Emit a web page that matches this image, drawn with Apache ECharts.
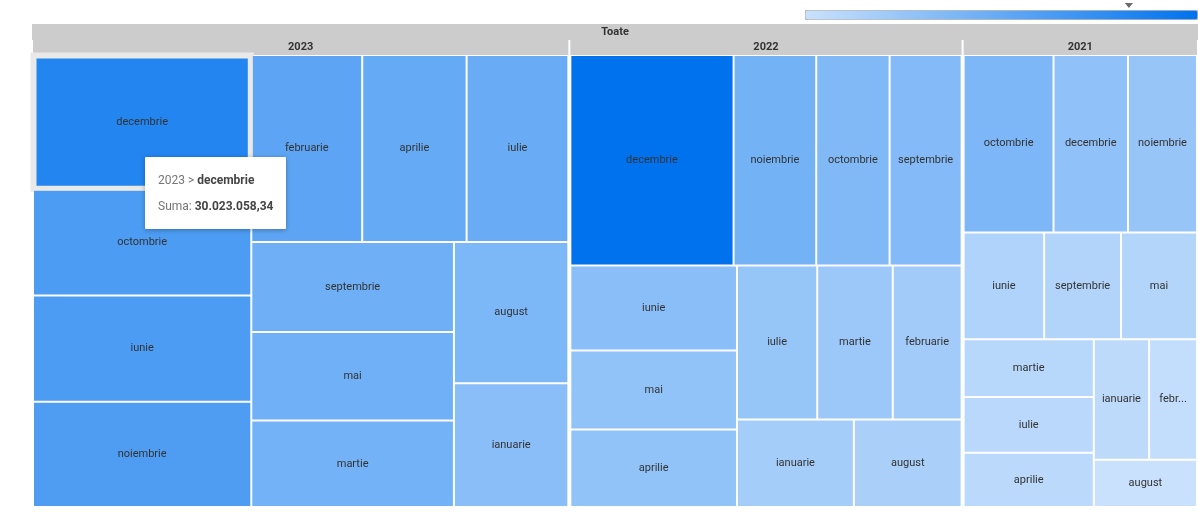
<!DOCTYPE html>
<html>
<head>
<meta charset="utf-8">
<style>
  html, body { margin: 0; padding: 0; background: #fff; }
  #chart { width: 1198px; height: 519px; }
</style>
<script src="https://cdn.jsdelivr.net/npm/echarts@6/dist/echarts.min.js"></script>
</head>
<body>
<div id="chart"></div>
<script>
  const rootName = 'Toate';
  const years = ['2023', '2022', '2021'];
  const months = ['ianuarie', 'februarie', 'martie', 'aprilie', 'mai', 'iunie',
    'iulie', 'august', 'septembrie', 'octombrie', 'noiembrie', 'decembrie'];
  // sume lunare, in ordinea din months
  const sums2023 = [14515000, 21270000, 17960000, 20030000, 18420000, 23750000,
    19510000, 16570000, 18670000, 23830000, 23570000, 30023058.34];
  const sums2022 = [10490000, 10900000, 11950000, 13280000, 13500000, 14540000,
    12700000, 9670000, 15560000, 15860000, 17860000, 35280000];
  const sums2021 = [6870000, 5950000, 7730000, 7280000, 8360000, 8860000,
    7490000, 5020000, 8460000, 16440000, 12620000, 13610000];
  const yearSums = [sums2023, sums2022, sums2021];
  const hoverYear = '2023';
  const hoverMonth = 'decembrie';

  function formatRo(v) {
    const parts = Number(v).toFixed(2).split('.');
    return parts[0].replace(/\B(?=(\d{3})+(?!\d))/g, '.') + ',' + parts[1];
  }

  const allValues = [].concat(...yearSums);
  const minVal = Math.min(...allValues);
  const maxVal = Math.max(...allValues);
  const hoverValue = yearSums[years.indexOf(hoverYear)][months.indexOf(hoverMonth)];

  const treeData = [{
    name: rootName,
    children: years.map((y, i) => ({
      name: y,
      children: months.map((m, j) => ({ name: m, value: yearSums[i][j] })),
    })),
  }];

  // scala de culoare (sus, dreapta)
  const scaleLeft = 805;
  const scaleTop = 10;
  const scaleLength = 392;
  const markerX = scaleLeft + (hoverValue - minVal) / (maxVal - minVal) * scaleLength;

  const headerLabel = {
    show: true,
    position: 'inside',
    align: 'center',
    verticalAlign: 'middle',
    color: '#333',
    fontWeight: 'bold',
    fontSize: 11,
    backgroundColor: '#cccccc',
  };

  const chart = echarts.init(document.getElementById('chart'));
  chart.setOption({
    animation: false,
    textStyle: { fontFamily: 'Roboto, sans-serif' },
    tooltip: {
      trigger: 'item',
      alwaysShowContent: true,
      transitionDuration: 0,
      position: [145, 157],
      backgroundColor: '#fff',
      borderWidth: 0,
      padding: [10, 13],
      extraCssText: 'box-shadow: 0 1px 5px rgba(0,0,0,0.3); border-radius: 1px;',
      formatter: (p) => {
        const path = (p.treePathInfo || []).slice(2).map((n) => n.name);
        const last = path.pop() || p.name;
        const head = path.length ? path.join(' &gt; ') + ' &gt; ' : '';
        return '<div style="font-family:Roboto;font-size:12px;line-height:26px;color:#757575">'
          + head + '<b style="color:#444">' + last + '</b></div>'
          + '<div style="font-family:Roboto;font-size:12px;line-height:26px;color:#757575">Suma: '
          + '<b style="color:#444">' + formatRo(p.value) + '</b></div>';
      },
    },
    visualMap: {
      type: 'continuous',
      seriesIndex: 0,
      min: minVal,
      max: maxVal,
      orient: 'horizontal',
      left: scaleLeft,
      top: scaleTop,
      itemWidth: 9,
      itemHeight: scaleLength,
      calculable: false,
      hoverLink: false,
      padding: 0,
      borderWidth: 1,
      borderColor: '#b3b3b3',
      inRange: { color: ['#c9e1fc', '#0072ee'] },
    },
    graphic: [{
      type: 'polygon',
      silent: true,
      shape: { points: [[markerX - 4, 3], [markerX + 4, 3], [markerX, 8]] },
      style: { fill: '#6b6b6b' },
    }],
    series: [{
      type: 'treemap',
      left: 32,
      top: 24,
      right: 0,
      bottom: 11,
      roam: false,
      nodeClick: false,
      breadcrumb: { show: false },
      label: {
        show: true,
        position: 'inside',
        align: 'center',
        verticalAlign: 'middle',
        color: '#333',
        fontSize: 11,
      },
      levels: [
        {
          itemStyle: { borderWidth: 0, gapWidth: 0, borderColor: '#fff' },
          upperLabel: { show: false },
        },
        {
          itemStyle: { borderWidth: 0, gapWidth: 0, borderColor: '#fff' },
          upperLabel: { ...headerLabel, height: 16 },
        },
        {
          itemStyle: { borderWidth: 1, gapWidth: 0, borderColor: '#fff' },
          upperLabel: { ...headerLabel, height: 15 },
        },
        {
          itemStyle: { borderWidth: 1, gapWidth: 0, borderColor: '#fff' },
          emphasis: {
            itemStyle: { color: 'inherit', strokeColor: '#e9e9e9', strokeWidth: 5 },
            label: { color: '#333' },
          },
        },
      ],
      data: treeData,
    }],
  });

  // simuleaza hover pe celula aleasa (tooltip + evidentiere)
  function hoverCell(yearName, monthName) {
    const data = chart.getModel().getSeriesByIndex(0).getData();
    let x = 110;
    let y = 110;
    for (let i = 0; i < data.count(); i++) {
      const node = data.tree.getNodeByDataIndex(i);
      if (node && node.name === monthName && node.parentNode && node.parentNode.name === yearName) {
        const el = data.getItemGraphicEl(i);
        if (el) {
          const r = el.getBoundingRect().clone();
          r.applyTransform(el.getComputedTransform());
          x = r.x + r.width / 2;
          y = r.y + r.height / 2;
        }
      }
    }
    const canvas = chart.getDom().querySelector('canvas');
    const box = canvas.getBoundingClientRect();
    const init = { clientX: box.left + x, clientY: box.top + y, bubbles: true, cancelable: true, pointerType: 'mouse' };
    canvas.dispatchEvent(new PointerEvent('pointermove', init));
    canvas.dispatchEvent(new MouseEvent('mousemove', init));
  }
  hoverCell(hoverYear, hoverMonth);
</script>
</body>
</html>
